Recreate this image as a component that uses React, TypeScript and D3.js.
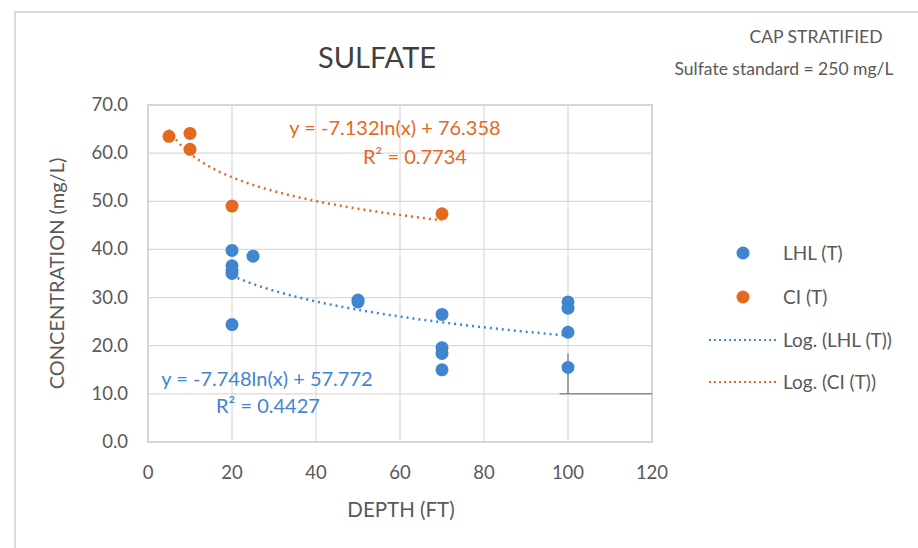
import React from "react";
import * as d3 from "d3";

// LHL (T) samples: depth (ft) and sulfate (mg/L)
const lhlDepth = [20, 25, 20, 20, 20, 20, 50, 50, 70, 70, 70, 70, 100, 100, 100, 100];
const lhlValue = [39.8, 38.6, 36.6, 35.6, 35.0, 24.4, 29.5, 29.1, 26.5, 19.6, 18.4, 15.0, 29.1, 27.8, 22.8, 15.5];

// CI (T) samples
const ciDepth = [5, 10, 10, 20, 70];
const ciValue = [63.5, 64.1, 60.8, 49.0, 47.4];

// log trendlines y = a ln(x) + b
const lhlTrend = { a: -7.748, b: 57.772, r2: "0.4427" };
const ciTrend = { a: -7.132, b: 76.358, r2: "0.7734" };

const xTicks = [0, 20, 40, 60, 80, 100, 120];
const yTicks = [0, 10, 20, 30, 40, 50, 60, 70];

// grey marker line drawn in the sheet near depth 100
const markerLine: [number, number][] = [
  [100, 18.4],
  [100, 10],
  [98, 10],
  [120, 10],
];

const BLUE = "#3F85CF";
const ORANGE = "#E4691F";
const TEXT = "#595959";
const GRID = "#D9D9D9";
const FONT = "Lato, 'Open Sans', sans-serif";

export default function App() {
  const width = 918;
  const height = 548;

  const x = d3.scaleLinear().domain([0, 120]).range([148, 652]);
  const y = d3.scaleLinear().domain([0, 70]).range([442, 105]);

  const trendLine = (t: { a: number; b: number }, x0: number, x1: number) => {
    const pts = d3.range(0, 101).map((i) => x0 + ((x1 - x0) * i) / 100);
    return d3
      .line<number>()
      .x((d) => x(d))
      .y((d) => y(t.a * Math.log(d) + t.b))(pts);
  };

  const lhlPts = lhlDepth.map((d, i) => [d, lhlValue[i]]);
  const ciPts = ciDepth.map((d, i) => [d, ciValue[i]]);

  const fmt = (t: { a: number; b: number }) =>
    `y = ${t.a.toFixed(3)}ln(x) + ${t.b.toFixed(3)}`;

  const seg = d3.line<[number, number]>().x((d) => x(d[0])).y((d) => y(d[1]));

  return (
    <svg width={width} height={height} style={{ position: "absolute", left: 0, top: 0 }}>
      <rect x={0} y={0} width={width} height={height} fill="#fff" />
      <rect x={15} y={12} width={width + 10} height={height + 10} fill="#fff" stroke="#D0D0D0" strokeWidth={1.5} />

      {/* gridlines */}
      {yTicks.map((t) => (
        <line key={"gy" + t} x1={x(0)} x2={x(120)} y1={y(t)} y2={y(t)} stroke={GRID} strokeWidth={1.2} />
      ))}
      {xTicks.map((t) => (
        <line key={"gx" + t} x1={x(t)} x2={x(t)} y1={y(0)} y2={y(70)} stroke={GRID} strokeWidth={1.2} />
      ))}
      <rect x={x(0)} y={y(70)} width={x(120) - x(0)} height={y(0) - y(70)} fill="none" stroke="#CFCFCF" strokeWidth={1.5} />

      {/* tick labels */}
      {yTicks.map((t) => (
        <text key={"ty" + t} x={128} y={y(t) + 6} textAnchor="end" fontFamily={FONT} fontSize={18.5} fill={TEXT}>
          {t.toFixed(1)}
        </text>
      ))}
      {xTicks.map((t) => (
        <text key={"tx" + t} x={x(t)} y={479} textAnchor="middle" fontFamily={FONT} fontSize={18.5} fill={TEXT}>
          {t}
        </text>
      ))}

      {/* axis titles */}
      <text x={401} y={517} textAnchor="middle" fontFamily={FONT} fontSize={20.5} fill={TEXT}>
        DEPTH (FT)
      </text>
      <text
        transform={`translate(64, ${y(35)}) rotate(-90)`}
        textAnchor="middle"
        fontFamily={FONT}
        fontSize={20}
        fill={TEXT}
      >
        CONCENTRATION (mg/L)
      </text>

      {/* titles */}
      <text x={377} y={68} textAnchor="middle" fontFamily={FONT} fontSize={29} fill="#404040">
        SULFATE
      </text>
      <text x={816} y={43} textAnchor="middle" fontFamily={FONT} fontSize={17.5} fill={TEXT}>
        CAP STRATIFIED
      </text>
      <text x={784} y={75} textAnchor="middle" fontFamily={FONT} fontSize={17.5} fill={TEXT}>
        Sulfate standard = 250 mg/L
      </text>

      {/* grey marker line */}
      <path d={seg(markerLine.slice(0, 2)) || ""} stroke="#8C8C8C" strokeWidth={1.5} fill="none" />
      <path d={seg(markerLine.slice(2)) || ""} stroke="#8C8C8C" strokeWidth={1.5} fill="none" />

      {/* points */}
      {lhlPts.map((p, i) => (
        <circle key={"l" + i} cx={x(p[0])} cy={y(p[1])} r={6.5} fill={BLUE} />
      ))}
      {ciPts.map((p, i) => (
        <circle key={"c" + i} cx={x(p[0])} cy={y(p[1])} r={6.5} fill={ORANGE} />
      ))}

      {/* trendlines */}
      <path d={trendLine(lhlTrend, 20, 100) || ""} fill="none" stroke={BLUE} strokeWidth={2.5} strokeDasharray="2 4" />
      <path d={trendLine(ciTrend, 5, 70) || ""} fill="none" stroke={ORANGE} strokeWidth={2.5} strokeDasharray="2 4" />

      {/* equations */}
      <text x={395} y={135} textAnchor="middle" fontFamily={FONT} fontSize={20} fill={ORANGE}>
        {fmt(ciTrend)}
      </text>
      <text x={415} y={164} textAnchor="middle" fontFamily={FONT} fontSize={20} fill={ORANGE}>
        R² = {ciTrend.r2}
      </text>
      <text x={267} y={386} textAnchor="middle" fontFamily={FONT} fontSize={20} fill={BLUE}>
        {fmt(lhlTrend)}
      </text>
      <text x={268} y={413} textAnchor="middle" fontFamily={FONT} fontSize={20} fill={BLUE}>
        R² = {lhlTrend.r2}
      </text>

      {/* legend */}
      <circle cx={743} cy={253} r={6.5} fill={BLUE} />
      <text x={783} y={260} fontFamily={FONT} fontSize={19} fill={TEXT}>LHL (T)</text>
      <circle cx={743} cy={297} r={6.5} fill={ORANGE} />
      <text x={783} y={304} fontFamily={FONT} fontSize={19} fill={TEXT}>CI (T)</text>
      <line x1={709} x2={779} y1={340} y2={340} stroke={BLUE} strokeWidth={2} strokeDasharray="2 3" />
      <text x={783} y={347} fontFamily={FONT} fontSize={19} fill={TEXT}>Log. (LHL (T))</text>
      <line x1={709} x2={779} y1={382} y2={382} stroke={ORANGE} strokeWidth={2} strokeDasharray="2 3" />
      <text x={783} y={389} fontFamily={FONT} fontSize={19} fill={TEXT}>Log. (CI (T))</text>
    </svg>
  );
}
